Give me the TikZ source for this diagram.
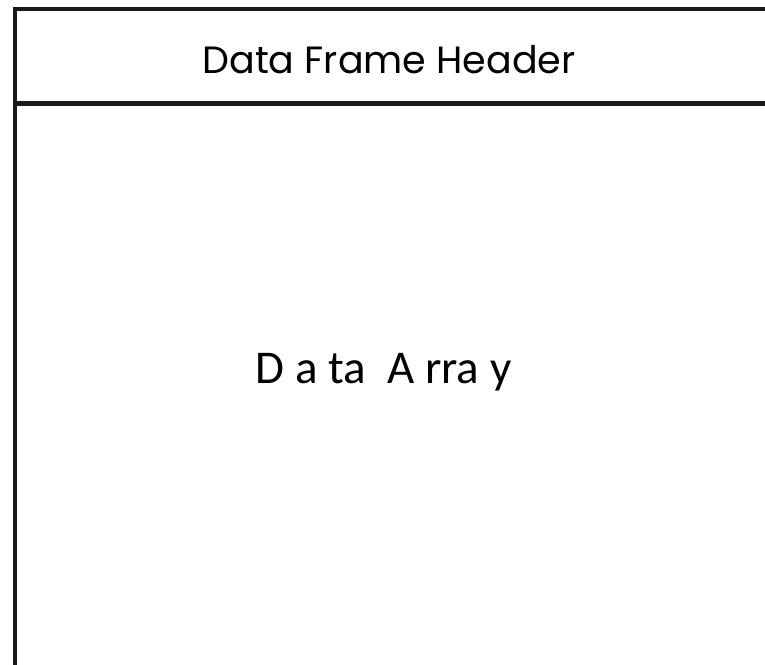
\documentclass[tikz,border=0pt]{standalone}
\usepackage{fontspec}
\setmainfont{Carlito}
\newfontfamily\geofont{Poppins}
\begin{document}
\begin{tikzpicture}[x=1pt,y=-1pt,
  frameline/.style={line width=4.5pt, draw=black!90},
  hdrtext/.style={font=\geofont\fontsize{38}{46}\selectfont, anchor=base, inner sep=0pt},
  arrtext/.style={font=\fontsize{47}{56}\selectfont, anchor=base, inner sep=0pt}]
\useasboundingbox (0,0) rectangle (765,664);
\clip (0,0) rectangle (765,664);
\coordinate (tr) at (800,9);
\coordinate (tl) at (15,9);
\coordinate (bl) at (15,700);
\coordinate (hl) at (15,103.5);
\coordinate (hr) at (800,103.5);
\draw[frameline] (tr) -- (tl) -- (bl);
\draw[frameline] (hl) -- (hr);
\node[hdrtext] (header) at (389,73) {Data Frame Header};
\node[arrtext] (array) at (383.5,383) {D a ta\ \ A rra y};
\end{tikzpicture}
\end{document}
